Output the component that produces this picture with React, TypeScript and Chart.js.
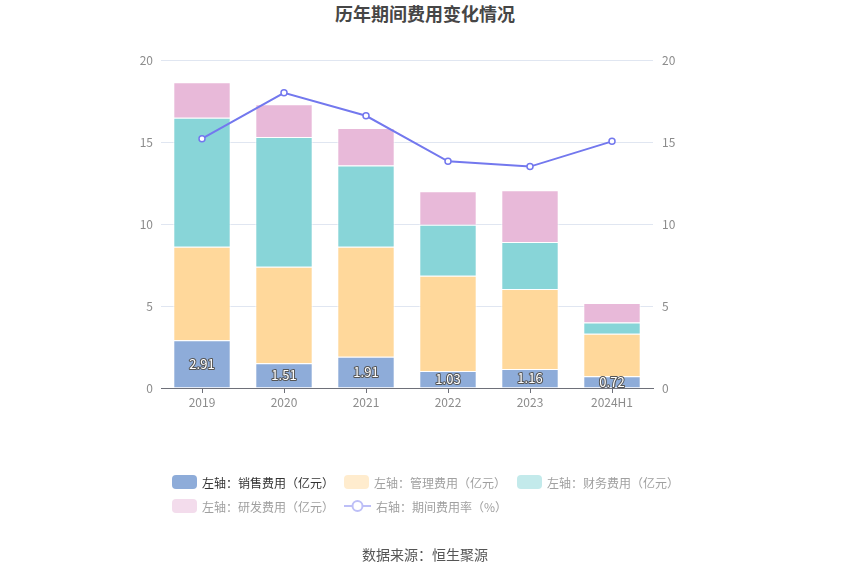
import React, { useEffect, useRef } from 'react';
import { Chart, registerables, Plugin } from 'chart.js';

Chart.register(...registerables);

const years = ['2019', '2020', '2021', '2022', '2023', '2024H1'];
const salesCost = [2.91, 1.51, 1.91, 1.03, 1.16, 0.72];
const adminCost = [5.71, 5.88, 6.7, 5.81, 4.87, 2.59];
const financeCost = [7.86, 7.91, 4.95, 3.11, 2.88, 0.69];
const rdCost = [2.16, 2.0, 2.29, 2.05, 3.15, 1.18];
const expenseRate = [15.2, 18.0, 16.6, 13.82, 13.5, 15.04];
const axisTicks = [0, 5, 10, 15, 20];

const FONT = "'Noto Sans CJK SC', 'Noto Sans', sans-serif";
const BLUE = '#8eacd9';
const ORANGE = '#ffd89b';
const TEAL = '#88d5d8';
const PINK = '#e8b9d9';
const LINE = '#7378ee';

const legendItems = [
  { text: '左轴：销售费用（亿元）', color: BLUE, textColor: '#333', kind: 'box' },
  { text: '左轴：管理费用（亿元）', color: '#ffecce', textColor: '#a0a0a0', kind: 'box' },
  { text: '左轴：财务费用（亿元）', color: '#c3eaeb', textColor: '#a0a0a0', kind: 'box' },
  { text: '左轴：研发费用（亿元）', color: '#f3dcec', textColor: '#a0a0a0', kind: 'box' },
  { text: '右轴：期间费用率（%）', color: '#bdbff7', textColor: '#a0a0a0', kind: 'line' },
];
const legendCols = [172, 344, 517];

// white text with a dark outline on the blue segments
const salesLabels: Plugin<'bar'> = {
  id: 'salesLabels',
  afterDatasetsDraw(chart) {
    const meta = chart.getDatasetMeta(0);
    const ctx = chart.ctx;
    ctx.save();
    ctx.font = `13px ${FONT}`;
    ctx.textAlign = 'center';
    ctx.textBaseline = 'middle';
    ctx.lineWidth = 2;
    ctx.lineJoin = 'round';
    ctx.strokeStyle = '#555';
    ctx.fillStyle = '#fff';
    meta.data.forEach((el, i) => {
      const p = (el as any).getCenterPoint();
      const t = salesCost[i].toFixed(2);
      ctx.strokeText(t, p.x, p.y);
      ctx.fillText(t, p.x, p.y);
    });
    ctx.restore();
  },
};

const App: React.FC = () => {
  const canvasRef = useRef<HTMLCanvasElement | null>(null);

  useEffect(() => {
    if (!canvasRef.current) return;
    const bar = (label: string, data: number[], color: string) => ({
      type: 'bar' as const,
      label,
      data,
      backgroundColor: color,
      borderColor: 'rgba(255,255,255,0.8)',
      borderWidth: 1,
      yAxisID: 'y',
      order: 1,
      categoryPercentage: 1,
      barPercentage: 0.7,
    });
    const chart = new Chart(canvasRef.current, {
      type: 'bar',
      data: {
        labels: years,
        datasets: [
          bar('销售费用', salesCost, BLUE),
          bar('管理费用', adminCost, ORANGE),
          bar('财务费用', financeCost, TEAL),
          bar('研发费用', rdCost, PINK),
          {
            type: 'line' as const,
            label: '期间费用率',
            data: expenseRate,
            borderColor: LINE,
            backgroundColor: '#fff',
            borderWidth: 2,
            pointRadius: 3,
            pointBorderWidth: 1.5,
            pointBackgroundColor: '#fff',
            pointBorderColor: LINE,
            yAxisID: 'y1',
            order: 0,
          } as any,
        ],
      },
      options: {
        animation: false,
        responsive: false,
        layout: { padding: { top: 60, left: 0, right: 0, bottom: 0 } },
        plugins: {
          legend: { display: false },
          tooltip: { enabled: false },
        },
        scales: {
          x: {
            stacked: true,
            offset: true,
            grid: { drawOnChartArea: false, drawTicks: true, tickLength: 5, offset: false, color: '#6e7079' },
            border: { display: true, color: '#6e7079' },
            ticks: { color: '#8c8c8c', font: { size: 12, family: FONT }, padding: 2 },
            afterFit: (s: any) => { s.height = 575 - 388; },
          },
          y: {
            stacked: true,
            position: 'left',
            min: 0,
            max: 20,
            afterBuildTicks: (s: any) => { s.ticks = axisTicks.map(v => ({ value: v })); },
            grid: { color: '#e0e6f1', drawTicks: false },
            border: { display: false },
            ticks: { color: '#8c8c8c', font: { size: 12, family: FONT }, padding: 8 },
            afterFit: (s: any) => { s.width = 161; },
          },
          y1: {
            position: 'right',
            min: 0,
            max: 20,
            afterBuildTicks: (s: any) => { s.ticks = axisTicks.map(v => ({ value: v })); },
            grid: { drawOnChartArea: false, drawTicks: false },
            border: { display: false },
            ticks: { color: '#8c8c8c', font: { size: 12, family: FONT }, padding: 9 },
            afterFit: (s: any) => { s.width = 850 - 653; },
          },
        },
      },
      plugins: [salesLabels as any],
    });
    return () => chart.destroy();
  }, []);

  return (
    <div style={{ position: 'fixed', left: 0, top: 0, width: 850, height: 575, background: '#fff', fontFamily: FONT }}>
      <div style={{ position: 'absolute', left: 0, width: 850, top: 1, textAlign: 'center', fontSize: 18, fontWeight: 'bold', color: '#464646', lineHeight: '24px' }}>
        历年期间费用变化情况
      </div>
      <canvas ref={canvasRef} width={850} height={575} style={{ position: 'absolute', left: 0, top: 0 }} />
      {legendItems.map((it, i) => {
        const left = legendCols[i % 3];
        const top = i < 3 ? 482 : 506;
        return (
          <div key={i} style={{ position: 'absolute', left, top: top - 9, height: 18, display: 'flex', alignItems: 'center', fontSize: 12, color: it.textColor, whiteSpace: 'nowrap' }}>
            {it.kind === 'box' ? (
              <span style={{ display: 'inline-block', width: 25, height: 14, borderRadius: 4, background: it.color, marginRight: 5 }} />
            ) : (
              <svg width={27} height={14} style={{ marginRight: 5 }}>
                <line x1={0} y1={7} x2={27} y2={7} stroke={it.color} strokeWidth={2} />
                <circle cx={13.5} cy={7} r={5} fill="#fff" stroke={it.color} strokeWidth={2} />
              </svg>
            )}
            <span>{it.text}</span>
          </div>
        );
      })}
      <div style={{ position: 'absolute', left: 0, width: 850, top: 545, textAlign: 'center', fontSize: 14, color: '#555', lineHeight: '18px' }}>
        数据来源：恒生聚源
      </div>
    </div>
  );
};

export default App;
